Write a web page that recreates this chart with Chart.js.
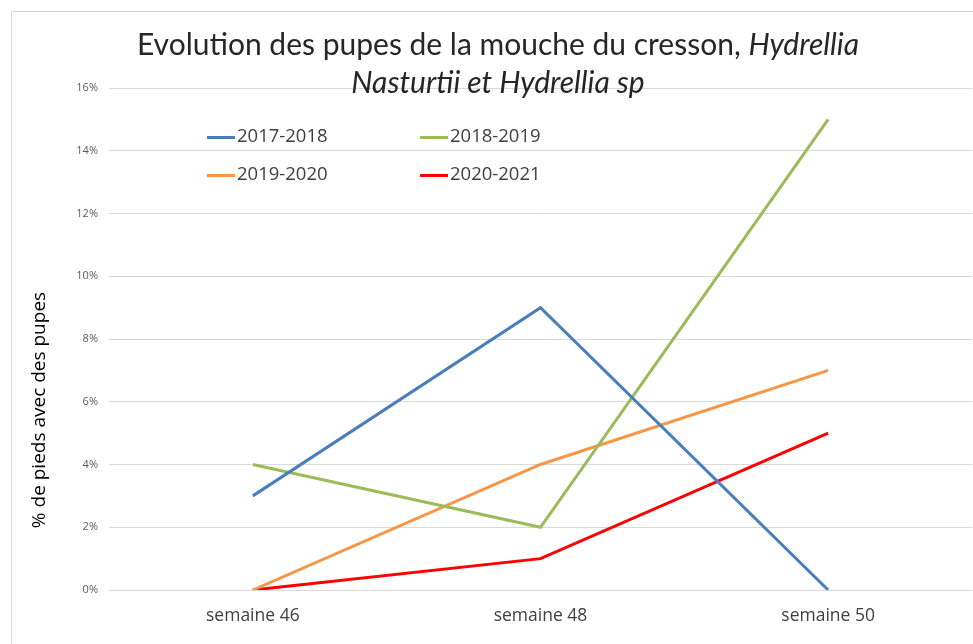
<!DOCTYPE html>
<html>
<head>
<meta charset="utf-8">
<script src="https://cdn.jsdelivr.net/npm/chart.js@4.4.0/dist/chart.umd.min.js"></script>
<style>
  html, body { margin: 0; padding: 0; background: #fff; }
  #wrap { position: relative; width: 973px; height: 644px; overflow: hidden; }
  #frame { position: absolute; left: 11px; top: 11px; right: -5px; bottom: -5px;
           border-top: 1px solid #d9d9d9; border-left: 1px solid #d9d9d9; }
  #title { position: absolute; left: 0; width: 996px; top: 24px; text-align: center;
           font-family: Lato, sans-serif; font-weight: 400; font-size: 30px; line-height: 38px; color: #262626; }
  #ylabel { position: absolute; left: 38px; top: 410px; transform: translate(-50%, -50%) rotate(-90deg);
            white-space: nowrap; font-family: "Open Sans", sans-serif; font-size: 19px; color: #000; }
  #legend { position: absolute; left: 207px; top: 122px; font-family: "Open Sans", sans-serif;
            font-size: 18.5px; color: #404040; }
  .item { position: absolute; white-space: nowrap; }
  .item span.swatch { display: inline-block; width: 28px; height: 3px; vertical-align: middle; margin-right: 2px; }
</style>
</head>
<body>
<div id="wrap">
  <div id="frame"></div>
  <canvas id="pupesChart" width="973" height="644"></canvas>
  <div id="title">Evolution des pupes de la mouche du cresson, <i>Hydrellia</i><br><i>Nasturtii et Hydrellia sp</i></div>
  <div id="ylabel">% de pieds avec des pupes</div>
  <div id="legend"></div>
</div>
<script>
// data
const weeks = ['semaine 46', 'semaine 48', 'semaine 50'];
const seasons = ['2017-2018', '2018-2019', '2019-2020', '2020-2021'];
const s2017 = [3, 9, 0];
const s2018 = [4, 2, 15];
const s2019 = [0, 4, 7];
const s2020 = [0, 1, 5];
const yTicks = [0, 2, 4, 6, 8, 10, 12, 14, 16];

const colors = ['#4a7ebb', '#9bbb59', '#f79646', '#ff0000'];
const values = [s2017, s2018, s2019, s2020];

const datasets = seasons.map((name, i) => {
    return {
        label: name,
        data: values[i],
        borderColor: colors[i],
        backgroundColor: colors[i],
        borderWidth: 3,
        pointRadius: 0,
        tension: 0
    };
});

// legend inside the plot, 2 columns
const legend = document.getElementById('legend');
datasets.forEach((ds, i) => {
    const div = document.createElement('div');
    div.className = 'item';
    div.style.left = (i % 2) * 213 + 'px';
    div.style.top = Math.floor(i / 2) * 38 + 'px';
    div.innerHTML = '<span class="swatch" style="background:' + ds.borderColor + '"></span>' + ds.label;
    legend.appendChild(div);
});

const ctx = document.getElementById('pupesChart').getContext('2d');
new Chart(ctx, {
    type: 'line',
    data: { labels: weeks, datasets: datasets },
    options: {
        responsive: false,
        animation: false,
        devicePixelRatio: 1,
        layout: { padding: { top: 88, right: 1, left: 0, bottom: 0 } },
        plugins: {
            legend: { display: false },
            title: { display: false },
            tooltip: { enabled: false }
        },
        scales: {
            x: {
                offset: true,
                grid: { display: false, drawTicks: false },
                border: { display: false },
                ticks: { color: '#404040', font: { family: 'Open Sans', size: 17.5 }, padding: 16 },
                afterFit: scale => { scale.height = 54; }
            },
            y: {
                min: 0,
                max: 16,
                afterBuildTicks: scale => { scale.ticks = yTicks.map(v => ({ value: v })); },
                grid: { color: '#d9d9d9', lineWidth: 1, drawTicks: false },
                border: { display: false },
                ticks: {
                    color: '#595959',
                    font: { family: 'Open Sans', size: 11 },
                    padding: 11,
                    callback: v => v + '%'
                },
                afterFit: scale => { scale.width = 109; }
            }
        }
    }
});
</script>
</body>
</html>
